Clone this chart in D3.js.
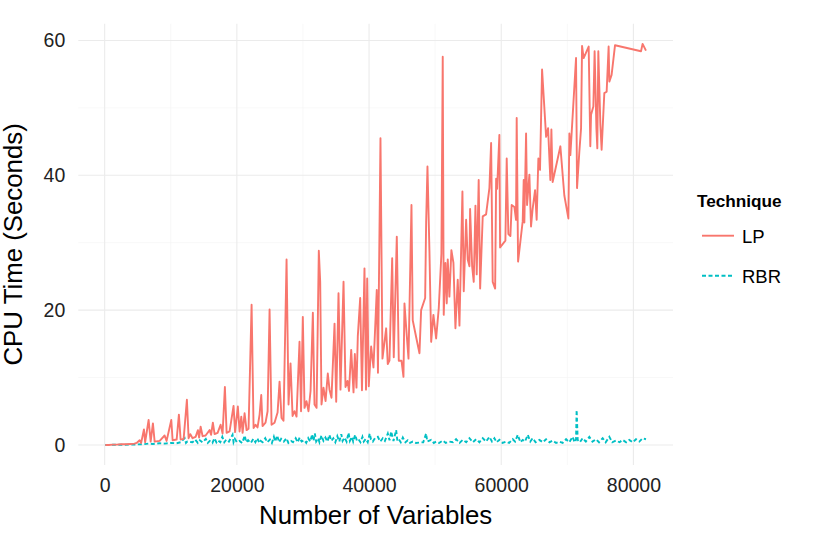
<!DOCTYPE html>
<html>
<head>
<meta charset="utf-8">
<script src="https://d3js.org/d3.v7.min.js"></script>
<style>
  body { margin: 0; background: #fff; font-family: "Liberation Sans", Arial, sans-serif; }
</style>
</head>
<body>
<div id="chart"></div>
<script>
// [number of variables, CPU seconds]
var lpRuns = [
  [100,0],[600,0],[1200,0.05],[1800,0.05],[2500,0.1],[3200,0.1],[3900,0.15],[4500,0.2],
  [4840,0.3],[5290,0.7],[5520,0.3],[5940,2.3],[6120,0.4],[6650,3.7],[6960,0.5],[7300,3.2],
  [7560,0.5],[8320,0.6],[9070,1.4],[9370,0.6],[10080,3.7],[10280,0.7],[10890,0.8],[11230,4.5],
  [11490,0.8],[11950,0.9],[12440,6.7],[12700,1.0],[12960,1.6],[13300,1.0],[13760,1.2],[14110,2.2],
  [14290,1.1],[14520,2.7],[14820,1.3],[15270,1.4],[15880,2.2],[16100,1.5],[16370,3.3],[16630,1.6],
  [17090,1.8],[17540,3.0],[17840,1.7],[18190,8.6],[18450,1.8],[18900,2.0],[19500,5.8],[19730,1.9],
  [20150,5.7],[20410,2.0],[20670,4.2],[20870,1.8],[21170,4.7],[21470,2.2],[21770,2.4],[22230,20.8],
  [22530,2.5],[22830,3.0],[23130,2.6],[23440,4.5],[23690,7.4],[23890,2.8],[24340,3.3],[24650,5.0],
  [24950,20.1],[25250,3.0],[25700,3.3],[26160,4.8],[26460,9.4],[26760,4.0],[27060,3.6],[27520,27.5],
  [27820,6.0],[28120,12.1],[28430,4.3],[28730,5.0],[29030,4.2],[29480,15.3],[29710,5.0],[29980,19.0],
  [30240,5.5],[30540,6.5],[30840,5.0],[31150,8.0],[31500,19.6],[31750,6.0],[32060,5.5],[32400,28.8],
  [32610,24.2],[32810,6.0],[33110,8.5],[33420,6.5],[33760,10.6],[34020,8.2],[34320,7.0],[34780,18.0],
  [35030,6.4],[35380,22.5],[35680,8.2],[36140,24.2],[36440,8.6],[36740,9.5],[36970,8.0],[37300,14.1],
  [37650,7.8],[37850,13.5],[38100,8.5],[38300,16.1],[38660,21.8],[38930,8.1],[39310,26.2],[39540,8.2],
  [39720,24.7],[39960,8.7],[40320,14.6],[40670,11.5],[41170,23.0],[41350,10.7],[41730,45.5],[42030,12.8],
  [42590,17.3],[42830,12.0],[43090,12.5],[43500,27.7],[43740,13.0],[44200,30.9],[44500,12.5],[44910,12.5],
  [45210,10.1],[45360,21.0],[45620,17.4],[45970,12.8],[46420,35.6],[46610,18.5],[47170,15.8],[47630,13.6],
  [47880,20.0],[48490,21.8],[48640,33.1],[48840,41.3],[49140,28.7],[49400,15.3],[49740,19.3],[50150,15.8],
  [50550,20.3],[50950,28.4],[51150,57.6],[51300,19.3],[51560,27.0],[51760,21.0],[51910,27.5],[52160,22.0],
  [52460,28.9],[52770,27.0],[53070,17.3],[53420,24.5],[53680,17.7],[54130,37.6],[54330,22.8],[54690,33.4],
  [54930,27.5],[55190,26.5],[55290,35.0],[55600,26.5],[55840,24.2],[56100,35.5],[56290,25.3],[56590,39.3],
  [56810,23.2],[57200,33.9],[57710,34.2],[58210,38.1],[58470,44.8],[58710,24.2],[59080,23.2],[59230,39.5],
  [59380,38.0],[59720,46.0],[59830,29.3],[60630,30.3],[60830,42.5],[61080,31.3],[61390,31.0],[61580,35.6],
  [61990,35.3],[62240,33.4],[62340,48.5],[62550,27.2],[63250,33.2],[63400,39.3],[63500,33.0],[63760,46.2],
  [63910,35.6],[64260,40.1],[64510,32.4],[64750,35.0],[65120,37.8],[65360,33.4],[65620,42.5],[65870,40.8],
  [66180,55.7],[66790,45.7],[67090,47.0],[67430,39.3],[67590,46.8],[67780,39.0],[68950,44.3],[69550,37.0],
  [70160,33.6],[70310,46.2],[70460,43.0],[71170,54.9],[71320,57.4],[71470,38.1],[71820,43.5],[72080,47.0],
  [72230,59.2],[72470,57.4],[73230,59.1],[73480,44.3],[73590,49.0],[73940,50.2],[74130,58.4],[74400,47.0],
  [74540,44.0],[74690,58.4],[75000,47.5],[75190,43.8],[75600,52.2],[75950,52.4],[76250,59.1],[76360,53.9],
  [76700,54.9],[77220,59.3],[81150,58.4],[81390,59.5],[81900,58.5]
];

var rbrRuns = [
  [100,0],[1200,0.02],[2500,0.03],[3900,0.05],[5000,0.08],[5900,0.1],[6600,0.2],[7300,0.15],
  [8300,0.25],[9100,0.2],[10100,0.3],[10900,0.25],[11500,0.4],[12100,1.0],[12300,0.3],[12500,0.5],
  [13300,0.4],[13700,0.8],[14100,0.3],[14400,0.7],[14800,0.4],[15300,0.9],[15600,0.3],[15900,0.6],
  [16300,0.3],[16600,1.0],[16900,0.4],[17100,0.7],[17500,0.4],[17800,1.2],[18100,0.4],[18400,0.8],
  [18800,0.5],[19350,1.5],[19500,0.4],[19700,0.9],[20000,0.4],[20400,0.6],[20800,0.3],[21200,1.4],
  [21400,0.4],[21700,0.7],[22100,0.3],[22500,0.9],[22800,0.4],[23100,1.0],[23400,0.3],[23600,0.6],
  [23900,0.4],[24300,1.0],[24600,0.4],[25000,0.8],[25300,0.3],[25600,1.2],[25800,0.5],[26100,1.4],
  [26400,0.4],[26700,0.9],[27100,0.5],[27500,1.0],[27800,0.3],[28200,0.6],[28500,0.4],[28900,1.0],
  [29200,0.4],[29500,1.1],[29800,0.5],[30200,0.7],[30500,0.3],[30800,1.0],[31100,0.5],[31400,1.6],
  [31600,0.6],[31800,1.7],[32000,0.5],[32300,1.0],[32500,0.4],[32800,1.4],[33100,0.6],[33400,1.1],
  [33700,0.5],[34000,1.5],[34300,0.6],[34600,1.0],[34900,0.4],[35200,1.3],[35500,0.5],[35800,1.6],
  [36000,0.6],[36300,1.1],[36600,0.5],[36900,1.8],[37100,0.6],[37400,1.2],[37600,0.5],[37900,1.5],
  [38200,0.5],[38500,0.7],[38700,0.4],[39000,1.2],[39200,0.5],[39500,0.9],[39800,0.4],[40100,1.7],
  [40300,0.8],[40570,0.5],[40900,1.0],[41330,1.2],[41700,0.5],[42080,1.0],[42400,0.6],[42840,1.7],
  [43100,0.7],[43350,2.0],[43700,0.6],[44100,2.2],[44300,0.5],[44600,0.7],[44800,0.4],[45110,1.1],
  [45500,0.4],[45860,0.7],[46200,0.3],[46610,0.5],[47100,0.3],[47630,0.35],[48200,0.4],[48640,1.7],
  [48800,0.5],[49040,0.6],[49400,0.75],[49800,0.3],[50150,0.5],[50600,0.3],[51150,0.65],[51600,0.3],
  [52160,0.5],[52700,0.4],[53170,0.85],[53700,0.3],[54180,0.75],[54700,0.4],[55190,1.0],[55700,0.4],
  [56200,0.85],[56700,0.4],[57200,1.0],[57700,0.5],[58210,1.2],[58600,0.5],[58970,1.0],[59300,0.4],
  [59720,0.75],[60200,0.3],[60740,0.5],[61200,0.3],[61740,0.85],[62100,0.5],[62500,1.5],[62900,0.4],
  [63250,0.75],[63600,0.5],[64010,1.5],[64400,0.5],[64760,1.0],[65200,0.4],[65770,0.75],[66300,0.4],
  [66790,0.85],[67300,0.4],[67780,0.65],[68300,0.3],[68800,0.5],[69300,0.3],[69810,0.85],[70300,0.4],
  [70810,1.2],[71100,0.4],[71320,0.8],[71410,5.2],[71570,0.75],[71900,0.4],[72320,1.0],[72800,0.5],
  [73330,1.2],[73800,0.5],[74340,0.85],[74800,0.4],[75350,1.0],[75800,0.4],[76360,1.2],[76800,0.4],
  [77370,0.65],[77900,0.4],[78370,0.75],[78900,0.4],[79380,0.75],[79900,0.4],[80390,0.85],[80900,0.5],
  [81390,1.0],[81900,0.85]
];

var techniques = ["LP", "RBR"];
var colors = ["#F8766D", "#00BFC4"];
var xTicks = [0, 20000, 40000, 60000, 80000];
var xMinor = [10000, 30000, 50000, 70000];
var yTicks = [0, 20, 40, 60];
var yMinor = [10, 30, 50];

var width = 830, height = 536;
var panel = { left: 78.3, right: 673, top: 23.8, bottom: 465 };

var svg = d3.select("#chart").append("svg")
  .attr("width", width).attr("height", height);

var all = lpRuns.concat(rbrRuns);
var xExt = d3.extent(all, d => d[0]);
var yExt = d3.extent(all, d => d[1]);
var xPad = (xExt[1] - xExt[0]) * 0.05;
var yPad = (yExt[1] - yExt[0]) * 0.05;

var x = d3.scaleLinear().domain([xExt[0] - xPad, xExt[1] + xPad]).range([panel.left, panel.right]);
var y = d3.scaleLinear().domain([yExt[0] - yPad, yExt[1] + yPad]).range([panel.bottom, panel.top]);

// grid
var grid = svg.append("g");
grid.selectAll(".vmin").data(xMinor).enter().append("line")
  .attr("x1", d => x(d)).attr("x2", d => x(d)).attr("y1", panel.top).attr("y2", panel.bottom)
  .attr("stroke", "#F4F4F4").attr("stroke-width", 0.6);
grid.selectAll(".hmin").data(yMinor).enter().append("line")
  .attr("x1", panel.left).attr("x2", panel.right).attr("y1", d => y(d)).attr("y2", d => y(d))
  .attr("stroke", "#F4F4F4").attr("stroke-width", 0.6);
grid.selectAll(".vmaj").data(xTicks).enter().append("line")
  .attr("x1", d => x(d)).attr("x2", d => x(d)).attr("y1", panel.top).attr("y2", panel.bottom)
  .attr("stroke", "#EBEBEB").attr("stroke-width", 1.1);
grid.selectAll(".hmaj").data(yTicks).enter().append("line")
  .attr("x1", panel.left).attr("x2", panel.right).attr("y1", d => y(d)).attr("y2", d => y(d))
  .attr("stroke", "#EBEBEB").attr("stroke-width", 1.1);

// axes
var xAxis = svg.append("g").attr("transform", "translate(0," + panel.bottom + ")")
  .call(d3.axisBottom(x).tickValues(xTicks).tickSize(0).tickPadding(13).tickFormat(d3.format("d")));
var yAxis = svg.append("g").attr("transform", "translate(" + panel.left + ",0)")
  .call(d3.axisLeft(y).tickValues(yTicks).tickSize(0).tickPadding(13));
[xAxis, yAxis].forEach(function (a) {
  a.select(".domain").remove();
  a.selectAll("text").attr("fill", "#222").style("font-size", "19.5px")
    .style("font-family", "'Liberation Sans', Arial, sans-serif");
});

// lines
var line = d3.line().x(d => x(d[0])).y(d => y(d[1]));
svg.append("path").datum(rbrRuns).attr("d", line)
  .attr("fill", "none").attr("stroke", colors[1]).attr("stroke-width", 1.9)
  .attr("stroke-dasharray", "4,2.5");
svg.append("path").datum(lpRuns).attr("d", line)
  .attr("fill", "none").attr("stroke", colors[0]).attr("stroke-width", 1.9)
  .attr("stroke-linejoin", "round");

// axis titles
svg.append("text").attr("x", (panel.left + panel.right) / 2).attr("y", 524)
  .attr("text-anchor", "middle").style("font-size", "25.8px").attr("fill", "#000")
  .text("Number of Variables");
svg.append("text").attr("transform", "translate(22," + (panel.top + panel.bottom) / 2 + ") rotate(-90)")
  .attr("text-anchor", "middle").style("font-size", "25.8px").attr("fill", "#000")
  .text("CPU Time (Seconds)");

// legend
var legend = svg.append("g");
legend.append("text").attr("x", 697).attr("y", 206.5)
  .style("font-size", "17.2px").style("font-weight", "bold").text("Technique");
var rows = legend.selectAll(".row").data(techniques).enter().append("g")
  .attr("transform", (d, i) => "translate(0," + (235.7 + i * 40) + ")");
rows.append("line").attr("x1", 702).attr("x2", 734).attr("y1", 0).attr("y2", 0)
  .attr("stroke", (d, i) => colors[i]).attr("stroke-width", 1.9)
  .attr("stroke-dasharray", (d, i) => i === 1 ? "4,2.5" : null);
rows.append("text").attr("x", 742).attr("y", 6.8)
  .style("font-size", "18.5px").attr("fill", "#000").text(d => d);
</script>
</body>
</html>
